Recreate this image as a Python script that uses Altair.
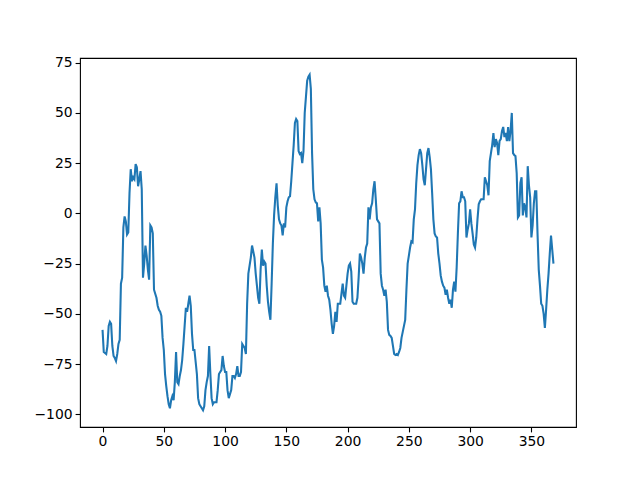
import altair as alt
import pandas as pd

values = [
    -58, -69, -69.5, -70, -66, -56, -54, -55, -66, -71,
    -72, -73.5, -70, -65, -63, -35, -32, -7, -1.5, -4,
    -10.5, -9.5, 10, 22, 16, 18, 17, 24.5, 23, 13.5,
    17, 21, 12, -32, -25, -16, -21, -28, -33, -6,
    -7, -10, -38, -40, -42, -46, -48, -49, -51, -62,
    -68, -80, -86, -91, -95, -97, -93, -91, -93, -84,
    -69, -84, -85, -81, -78, -73, -65, -56, -47, -49,
    -45, -41, -46, -60, -68, -68, -74, -80, -92, -95,
    -96, -97, -98, -96, -88, -84, -81, -66, -80, -92,
    -95, -94, -94, -94, -88, -80, -79, -78, -71, -76,
    -79, -79, -88, -92, -90, -88, -81, -81, -82, -80,
    -76, -81, -81, -79, -65, -66, -67, -70, -45, -30,
    -26, -22, -16, -19, -22, -30, -36, -42, -45, -28,
    -18, -26, -24, -25, -36, -44, -49, -53, -35, -15,
    -1, 8, 15, 4, -3, -5, -6, -11, -5, -7,
    3, 6, 8, 8.5, 16, 25, 34, 45, 47, 46,
    31, 29.5, 30, 25, 31, 50, 58, 66, 68, 69,
    62, 30, 12, 7, 5.5, 5, -4, 3, -5, -23,
    -27, -36, -39, -36, -41, -43, -48, -55, -60, -56,
    -49, -54, -45, -45, -45, -40, -35, -41, -42, -36,
    -30, -26, -25, -29, -44, -45, -45, -45, -42, -32,
    -20, -22, -25, -30, -22, -17, -15, 3, -3, 3,
    5, 12, 16, 7, -3, -4, -5, -30, -36, -38,
    -41, -38, -44, -58, -60.5, -61, -62, -66, -70, -70.5,
    -70, -70.5, -69, -67, -62, -59, -56, -53, -38, -25,
    -21, -17, -14, -14.5, -3, 2, 15, 24, 29, 32,
    30, 24, 17, 14, 22, 30, 32.5, 28, 22, 10,
    -3, -10, -11.5, -12, -20, -25, -31, -34, -36, -37,
    -40.5, -38, -42, -45, -43, -47, -38, -34, -39, -27,
    -10, 5, 6, 11, 8, 8, 6, -12, -8, -5,
    2, -5, -10, -15.5, -17, -12, -3, 4.5, 6, 7,
    7, 7, 18, 16, 14, 9, 26, 30, 34, 40,
    33, 37, 35, 29, 36, 37, 41, 43, 38, 40,
    36, 43, 36, 41, 50, 30, 29, 28.5, 20, -2,
    -1, 15, 18, -1, 5, 3, -2, 23.5, 14, 8,
    -12, -6, 5, 11, 11, -10, -28, -36, -45, -46,
    -50, -57, -48, -38, -30, -20, -11, -18, -25,
]
index = list(range(len(values)))
x_ticks = [0, 50, 100, 150, 200, 250, 300, 350]
y_ticks = [-100, -75, -50, -25, 0, 25, 50, 75]

df = pd.DataFrame({"i": index, "v": values})

FONT = "DejaVu Sans"

chart = alt.Chart(df).mark_line(color="#1f77b4", strokeWidth=2.08).encode(
    x=alt.X("i:Q",
            scale=alt.Scale(domain=[-18.4, 386.4], nice=False, zero=False),
            axis=alt.Axis(values=x_ticks, title=None, grid=False, domain=False,
                          tickColor="black", tickSize=4.9, tickWidth=1.1,
                          labelColor="black", labelFont=FONT, labelFontSize=13.9,
                          labelPadding=3, labelFlush=False, format="d")),
    y=alt.Y("v:Q",
            scale=alt.Scale(domain=[-106.35, 77.35], nice=False, zero=False),
            axis=alt.Axis(values=y_ticks, title=None, grid=False, domain=False,
                          tickColor="black", tickSize=4.9, tickWidth=1.1,
                          labelColor="black", labelFont=FONT, labelFontSize=13.9,
                          labelPadding=3, labelFlush=False, format="d",
                          labelExpr="replace(datum.label, '-', '\u2212')")),
).properties(
    width=496, height=369,
    background="white",
    autosize=alt.AutoSizeParams(type="none"),
    padding={"left": 72, "top": 50, "right": 56, "bottom": 45},
).configure_view(
    stroke="black", strokeWidth=1.1
)

chart.save("out.html", embed_options={"renderer": "svg", "actions": False})
